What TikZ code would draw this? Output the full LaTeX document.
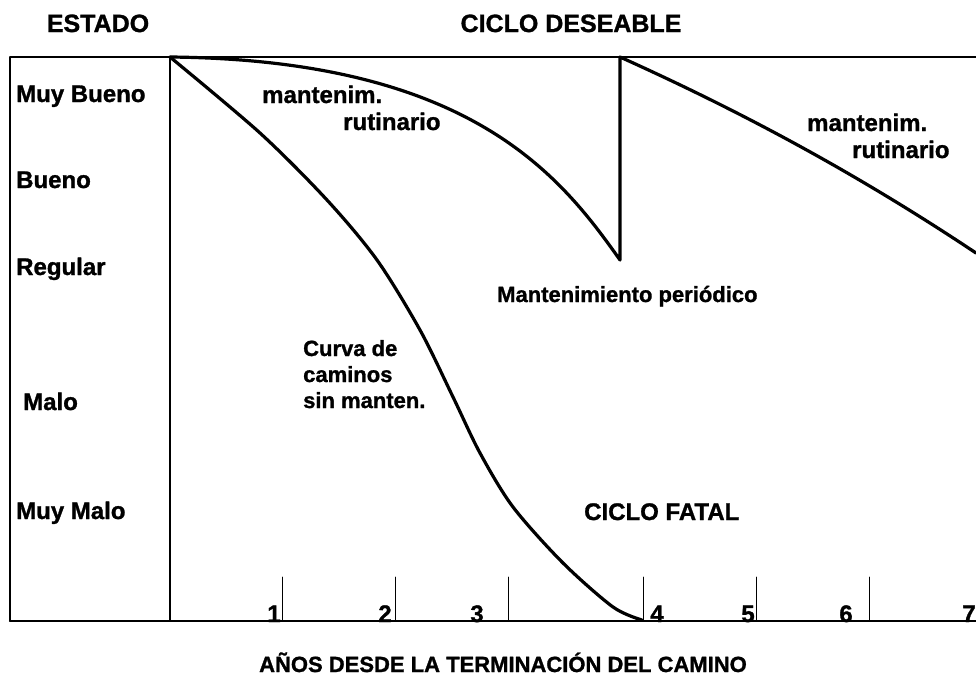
\documentclass[tikz,border=0pt]{standalone}
\usepackage{fontspec}
\setmainfont{Liberation Sans}[BoldFeatures={FakeBold=1.2}]
\begin{document}
\begin{tikzpicture}[x=1pt,y=-1pt,line join=round,line cap=round,
	txt/.style={font=\fontsize{24}{26}\selectfont\bfseries,inner sep=0pt},
	small/.style={font=\fontsize{22}{26}\selectfont\bfseries,inner sep=0pt,align=left},
	ttl/.style={font=\fontsize{25}{27}\selectfont\bfseries,inner sep=0pt},
	curve/.style={line width=3.2pt}]
	\def\xmin{10} \def\xmax{976}
	\def\ytop{57} \def\ybot{621}
	\useasboundingbox (0,0) rectangle (976,678);
	% frame
	\draw[line width=1.5pt] (\xmin,\ytop)--(\xmax,\ytop);
	\draw[line width=1.4pt] (\xmin,\ytop)--(\xmin,\ybot);
	\draw[line width=1.4pt] (170,\ytop)--(170,\ybot);
	\draw[line width=2.2pt] (\xmin,\ybot)--(\xmax,\ybot);
	\foreach \t in {282,395,508,643,756,869}
	\draw[line width=1pt] (\t,577)--(\t,\ybot);
	\foreach \p/\n in {274/1,385/2,477/3,657/4,748/5,846/6,969/7}
	\node[txt,anchor=base] (yr\n) at (\p,622) {\n};
	% titles
	\node[ttl,anchor=base] (estado) at (98,32) {ESTADO};
	\node[ttl,anchor=base] (deseable) at (571,32) {CICLO DESEABLE};
	\node[small,anchor=base] (anios) at (503,672) {AÑOS DESDE LA TERMINACIÓN DEL CAMINO};
	\foreach \y/\x/\s [count=\i] in {102/16/Muy Bueno,188/16/Bueno,275/16/Regular,410/23/Malo,519/16/Muy Malo}
	\node[txt,anchor=base west] (st\i) at (\x,\y) {\s};
	% curves
	\draw[curve] (170,57) .. controls (470,60) and (560,175) .. (620,260)
		-- (620,57) .. controls (740,111) and (856,173) .. (976,253);
	\draw[curve] plot[smooth] coordinates {(170,57) (260,133) (327,200) (377,260) (420,330) (453,397)
		(480,453) (513,507) (563,563) (613,607) (642,620)};
	% labels
	\node[txt,anchor=base west] (mant1) at (262,103) {mantenim.};
	\node[txt,anchor=base west] (rut1) at (343,130) {rutinario};
	\node[txt,anchor=base west] (mant2) at (807,131) {mantenim.};
	\node[txt,anchor=base west] (rut2) at (852,158) {rutinario};
	\node[small,anchor=base west] (periodico) at (497,302) {Mantenimiento periódico};
	\node[small,anchor=base west] (sinmant) at (303,408) {Curva de\\caminos\\sin manten.};
	\node[txt,anchor=base west] (fatal) at (584,520) {CICLO FATAL};
\end{tikzpicture}
\end{document}
